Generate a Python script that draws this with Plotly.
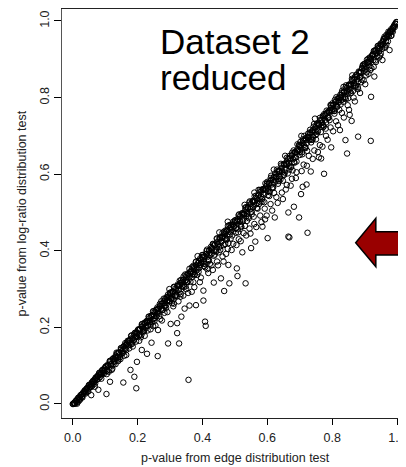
import plotly.graph_objects as go

# ---- data (edge-test p-value, log-ratio-test p-value) ----
band_edge = [
    .000, .003, .006, .009, .012, .015, .018, .021, .024, .027, .030, .033, .036, .039, .042, .045, .048,
    .051, .054, .057, .060, .063, .066, .069, .072, .075, .078, .081, .084, .087, .090, .093, .096, .099,
    .102, .105, .108, .111, .114, .117, .120, .123, .126, .129, .132, .135, .138, .141, .144, .147, .150,
    .153, .156, .159, .162, .165, .168, .171, .174, .177, .180, .183, .186, .189, .192, .195, .198,
    .201, .204, .207, .210, .213, .216, .219, .222, .225, .228, .231, .234, .237, .240, .243, .246, .249,
    .252, .255, .258, .261, .264, .267, .270, .273, .276, .279, .282, .285, .288, .291, .294, .297,
    .300, .303, .306, .309, .312, .315, .318, .321, .324, .327, .330, .333, .336, .339, .342, .345, .348,
    .351, .354, .357, .360, .363, .366, .369, .372, .375, .378, .381, .384, .387, .390, .393, .396, .399,
    .402, .405, .408, .411, .414, .417, .420, .423, .426, .429, .432, .435, .438, .441, .444, .447, .450,
    .453, .456, .459, .462, .465, .468, .471, .474, .477, .480, .483, .486, .489, .492, .495, .498,
    .501, .504, .507, .510, .513, .516, .519, .522, .525, .528, .531, .534, .537, .540, .543, .546, .549,
    .552, .555, .558, .561, .564, .567, .570, .573, .576, .579, .582, .585, .588, .591, .594, .597,
    .600, .603, .606, .609, .612, .615, .618, .621, .624, .627, .630, .633, .636, .639, .642, .645, .648,
    .651, .654, .657, .660, .663, .666, .669, .672, .675, .678, .681, .684, .687, .690, .693, .696, .699,
    .702, .705, .708, .711, .714, .717, .720, .723, .726, .729, .732, .735, .738, .741, .744, .747, .750,
    .753, .756, .759, .762, .765, .768, .771, .774, .777, .780, .783, .786, .789, .792, .795, .798,
    .801, .804, .807, .810, .813, .816, .819, .822, .825, .828, .831, .834, .837, .840, .843, .846, .849,
    .852, .855, .858, .861, .864, .867, .870, .873, .876, .879, .882, .885, .888, .891, .894, .897,
    .900, .903, .906, .909, .912, .915, .918, .921, .924, .927, .930, .933, .936, .939, .942, .945, .948,
    .951, .954, .957, .960, .963, .966, .969, .972, .975, .978, .981, .984, .987, .990, .993, .996, .999,
]
band_logratio = [
    .000, .001, .001, .008, .004, .012, .007, .017, .023, .018, .017, .031, .030, .027, .039, .037, .033,
    .050, .044, .052, .047, .061, .057, .053, .068, .064, .072, .080, .070, .079, .087, .081, .079, .093,
    .098, .086, .099, .084, .112, .103, .089, .116, .104, .117, .104, .134, .121, .116, .134, .117, .145,
    .133, .143, .126, .159, .141, .160, .153, .145, .166, .178, .157, .171, .168, .186, .163, .186,
    .193, .180, .194, .174, .208, .197, .189, .212, .198, .212, .192, .228, .216, .207, .231, .221, .242,
    .217, .237, .229, .252, .242, .229, .256, .268, .245, .262, .256, .274, .251, .271, .286, .269,
    .290, .276, .263, .294, .306, .281, .297, .281, .312, .298, .322, .287, .318, .307, .333, .320, .307,
    .337, .318, .335, .353, .319, .349, .339, .361, .336, .354, .372, .337, .368, .355, .380, .368, .389,
    .389, .372, .357, .391, .403, .375, .393, .366, .410, .393, .418, .387, .415, .402, .432, .417, .396,
    .434, .412, .434, .447, .415, .437, .453, .428, .455, .420, .467, .449, .462, .440, .476, .464,
    .480, .459, .477, .448, .495, .478, .464, .498, .477, .495, .465, .514, .496, .512, .485, .529, .513,
    .502, .530, .489, .542, .521, .536, .510, .559, .537, .527, .559, .539, .559, .527, .576, .560,
    .580, .562, .543, .582, .596, .563, .585, .551, .602, .583, .612, .575, .606, .592, .627, .609, .583,
    .627, .604, .628, .643, .602, .628, .648, .618, .649, .610, .662, .642, .656, .633, .678, .661, .676,
    .684, .668, .652, .687, .700, .671, .690, .661, .706, .689, .716, .683, .711, .698, .731, .714, .691,
    .732, .711, .731, .747, .710, .734, .752, .725, .753, .719, .766, .748, .763, .741, .781, .767,
    .785, .771, .758, .789, .801, .776, .792, .768, .807, .793, .818, .789, .813, .802, .832, .817, .798,
    .834, .816, .833, .849, .817, .837, .854, .831, .855, .827, .868, .852, .866, .847, .883, .870,
    .888, .875, .866, .891, .902, .882, .896, .877, .909, .898, .921, .897, .916, .908, .934, .921, .910,
    .937, .927, .939, .953, .933, .947, .958, .947, .961, .972, .961, .974, .972, .986, .984, .993, .997,
]

band2_edge = [
    .0015, .0045, .0075, .0105, .0135, .0165, .0195, .0225, .0255, .0285, .0315,
    .0345, .0375, .0405, .0435, .0465, .0495, .0525, .0555, .0585, .0615, .0645,
    .0675, .0705, .0735, .0765, .0795, .0825, .0855, .0885, .0915, .0945, .0975,
    .1005, .1035, .1065, .1095, .1125, .1155, .1185, .1215, .1245, .1275, .1305,
    .1335, .1365, .1395, .1425, .1455, .1485, .1515, .1545, .1575, .1605, .1635,
    .1665, .1695, .1725, .1755, .1785, .1815, .1845, .1875, .1905, .1935, .1965,
    .1995, .2025, .2055, .2085, .2115, .2145, .2175, .2205, .2235, .2265, .2295,
    .2325, .2355, .2385, .2415, .2445, .2475, .2505, .2535, .2565, .2595, .2625,
    .2655, .2685, .2715, .2745, .2775, .2805, .2835, .2865, .2895, .2925, .2955,
    .2985, .3015, .3045, .3075, .3105, .3135, .3165, .3195, .3225, .3255, .3285,
    .3315, .3345, .3375, .3405, .3435, .3465, .3495, .3525, .3555, .3585, .3615,
    .3645, .3675, .3705, .3735, .3765, .3795, .3825, .3855, .3885, .3915, .3945,
    .3975, .4005, .4035, .4065, .4095, .4125, .4155, .4185, .4215, .4245, .4275,
    .4305, .4335, .4365, .4395, .4425, .4455, .4485, .4515, .4545, .4575, .4605,
    .4635, .4665, .4695, .4725, .4755, .4785, .4815, .4845, .4875, .4905, .4935,
    .4965, .4995, .5025, .5055, .5085, .5115, .5145, .5175, .5205, .5235, .5265,
    .5295, .5325, .5355, .5385, .5415, .5445, .5475, .5505, .5535, .5565, .5595,
    .5625, .5655, .5685, .5715, .5745, .5775, .5805, .5835, .5865, .5895, .5925,
    .5955, .5985, .6015, .6045, .6075, .6105, .6135, .6165, .6195, .6225, .6255,
    .6285, .6315, .6345, .6375, .6405, .6435, .6465, .6495, .6525, .6555, .6585,
    .6615, .6645, .6675, .6705, .6735, .6765, .6795, .6825, .6855, .6885, .6915,
    .6945, .6975, .7005, .7035, .7065, .7095, .7125, .7155, .7185, .7215, .7245,
    .7275, .7305, .7335, .7365, .7395, .7425, .7455, .7485, .7515, .7545, .7575,
    .7605, .7635, .7665, .7695, .7725, .7755, .7785, .7815, .7845, .7875, .7905,
    .7935, .7965, .7995, .8025, .8055, .8085, .8115, .8145, .8175, .8205, .8235,
    .8265, .8295, .8325, .8355, .8385, .8415, .8445, .8475, .8505, .8535, .8565,
    .8595, .8625, .8655, .8685, .8715, .8745, .8775, .8805, .8835, .8865, .8895,
    .8925, .8955, .8985, .9015, .9045, .9075, .9105, .9135, .9165, .9195, .9225,
    .9255, .9285, .9315, .9345, .9375, .9405, .9435, .9465, .9495, .9525, .9555,
    .9585, .9615, .9645, .9675, .9705, .9735, .9765, .9795, .9825, .9855, .9885,
    .9915, .9945, .9975,
]
band2_logratio = [
    .000, .003, .001, .007, .001, .016, .012, .011, .023, .019, .027,
    .029, .036, .030, .040, .033, .049, .045, .044, .056, .052, .060,
    .062, .069, .063, .073, .066, .082, .078, .077, .089, .085, .093,
    .089, .099, .088, .101, .089, .113, .104, .100, .118, .110, .121,
    .122, .132, .121, .134, .122, .146, .137, .133, .151, .143, .154,
    .155, .165, .154, .167, .155, .179, .170, .166, .184, .176, .187,
    .183, .195, .180, .196, .180, .209, .197, .192, .213, .203, .215,
    .216, .228, .213, .229, .213, .242, .230, .225, .246, .236, .248,
    .249, .261, .246, .262, .246, .275, .263, .258, .279, .269, .281,
    .278, .291, .274, .291, .273, .305, .291, .286, .308, .297, .310,
    .311, .324, .307, .324, .306, .338, .324, .319, .341, .330, .343,
    .344, .357, .340, .357, .339, .371, .357, .352, .374, .363, .376,
    .371, .384, .366, .384, .365, .399, .384, .377, .402, .389, .403,
    .404, .417, .399, .417, .398, .432, .417, .410, .435, .422, .436,
    .437, .450, .432, .450, .431, .465, .450, .443, .468, .455, .469,
    .463, .478, .458, .478, .456, .493, .476, .469, .495, .481, .496,
    .496, .511, .491, .511, .489, .526, .509, .502, .528, .514, .529,
    .529, .544, .524, .544, .522, .559, .542, .535, .561, .547, .562,
    .560, .575, .555, .575, .553, .590, .573, .566, .592, .578, .593,
    .593, .608, .588, .608, .586, .623, .606, .599, .625, .611, .626,
    .626, .641, .621, .641, .619, .656, .639, .632, .658, .644, .659,
    .663, .676, .658, .676, .657, .691, .676, .669, .694, .681, .695,
    .696, .709, .691, .709, .690, .724, .709, .702, .727, .714, .728,
    .729, .742, .724, .742, .723, .757, .742, .735, .760, .747, .761,
    .768, .780, .765, .781, .765, .794, .782, .777, .798, .788, .800,
    .801, .813, .798, .814, .798, .827, .815, .810, .831, .821, .833,
    .834, .846, .831, .847, .831, .860, .848, .843, .864, .854, .866,
    .878, .886, .878, .889, .881, .899, .893, .892, .905, .901, .909,
    .914, .922, .914, .925, .917, .935, .929, .928, .941, .937, .945,
    .953, .959, .956, .964, .961, .972, .970, .971, .979, .978, .984,
    .989, .993, .997,
]

ridge_edge = [
    .0045, .0125, .0205, .0285, .0365, .0445, .0525, .0605, .0685, .0765,
    .0845, .0925, .1005, .1085, .1165, .1245, .1325, .1405, .1485, .1565,
    .1645, .1725, .1805, .1885, .1965, .2045, .2125, .2205, .2285, .2365,
    .2445, .2525, .2605, .2685, .2765, .2845, .2925, .3005, .3085, .3165,
    .3245, .3325, .3405, .3485, .3565, .3645, .3725, .3805, .3885, .3965,
    .4045, .4125, .4205, .4285, .4365, .4445, .4525, .4605, .4685, .4765,
    .4845, .4925, .5005, .5085, .5165, .5245, .5325, .5405, .5485, .5565,
    .5645, .5725, .5805, .5885, .5965, .6045, .6125, .6205, .6285, .6365,
    .6445, .6525, .6605, .6685, .6765, .6845, .6925, .7005, .7085, .7165,
    .7245, .7325, .7405, .7485, .7565, .7645, .7725, .7805, .7885, .7965,
    .8045, .8125, .8205, .8285, .8365, .8445, .8525, .8605, .8685, .8765,
    .8845, .8925, .9005, .9085, .9165, .9245, .9325, .9405, .9485, .9565,
    .9645, .9725, .9805, .9885, .9965,
]
ridge_logratio = [
    .003, .011, .018, .026, .034, .042, .049, .057, .065, .073,
    .080, .088, .096, .103, .111, .119, .126, .134, .141, .149,
    .156, .164, .171, .179, .186, .194, .202, .209, .217, .224,
    .232, .240, .247, .255, .263, .270, .278, .286, .293, .301,
    .308, .316, .324, .331, .339, .346, .354, .362, .369, .377,
    .385, .392, .400, .407, .415, .422, .430, .437, .445, .452,
    .460, .467, .475, .483, .491, .498, .506, .514, .522, .530,
    .538, .546, .554, .561, .569, .577, .585, .593, .601, .609,
    .617, .625, .633, .641, .649, .657, .665, .673, .681, .690,
    .698, .707, .715, .723, .732, .740, .748, .757, .765, .773,
    .781, .790, .799, .807, .816, .825, .833, .842, .850, .859,
    .867, .876, .884, .893, .902, .911, .920, .929, .938, .947,
    .956, .965, .974, .983, .992,
]

spread_points = [
    (0.140, 0.112), (0.165, 0.128), (0.185, 0.150), (0.205, 0.165), (0.222, 0.178), (0.248, 0.203),
    (0.270, 0.222), (0.283, 0.238), (0.310, 0.255), (0.332, 0.280), (0.350, 0.300), (0.372, 0.318),
    (0.395, 0.330), (0.415, 0.352), (0.428, 0.362), (0.445, 0.372), (0.462, 0.385), (0.478, 0.405),
    (0.495, 0.418), (0.512, 0.430), (0.527, 0.446), (0.545, 0.458), (0.560, 0.470), (0.578, 0.492),
    (0.592, 0.510), (0.610, 0.522), (0.628, 0.540), (0.645, 0.552), (0.660, 0.572), (0.676, 0.588),
    (0.690, 0.605), (0.712, 0.625), (0.728, 0.648), (0.745, 0.662), (0.762, 0.676), (0.781, 0.700),
    (0.795, 0.722), (0.812, 0.738), (0.830, 0.760), (0.848, 0.780), (0.866, 0.800), (0.880, 0.822),
    (0.897, 0.845), (0.912, 0.862), (0.928, 0.880), (0.945, 0.905), (0.962, 0.930), (0.105, 0.078),
    (0.122, 0.092), (0.088, 0.066), (0.068, 0.045),
    (0.385, 0.386), (0.452, 0.448), (0.560, 0.552), (0.298, 0.300), (0.530, 0.520), (0.620, 0.612),
    (0.705, 0.700), (0.835, 0.828), (0.747, 0.745), (0.862, 0.858), (0.478, 0.476), (0.655, 0.648),
    (0.905, 0.858), (0.918, 0.872), (0.935, 0.893), (0.950, 0.915), (0.967, 0.938), (0.983, 0.962),
    (0.872, 0.826), (0.889, 0.840), (0.858, 0.812), (0.842, 0.796), (0.826, 0.782), (0.808, 0.765),
    (0.790, 0.748), (0.772, 0.728), (0.752, 0.705), (0.738, 0.690), (0.718, 0.668), (0.700, 0.650),
    (0.684, 0.630), (0.668, 0.612), (0.652, 0.598), (0.636, 0.582), (0.618, 0.565), (0.602, 0.545),
    (0.585, 0.528), (0.568, 0.512), (0.552, 0.495), (0.537, 0.478), (0.520, 0.462), (0.503, 0.447),
    (0.487, 0.432), (0.470, 0.418), (0.455, 0.402), (0.438, 0.390), (0.420, 0.375), (0.405, 0.360),
    (0.388, 0.345), (0.368, 0.332), (0.352, 0.318), (0.335, 0.300), (0.318, 0.283), (0.300, 0.268),
    (0.285, 0.255), (0.265, 0.238), (0.250, 0.222), (0.232, 0.205), (0.215, 0.190), (0.198, 0.175),
    (0.180, 0.160), (0.162, 0.144), (0.145, 0.128), (0.128, 0.112),
    (0.312, 0.262), (0.326, 0.268), (0.341, 0.283), (0.356, 0.290), (0.375, 0.305), (0.392, 0.318),
    (0.418, 0.342), (0.432, 0.350), (0.448, 0.362), (0.465, 0.372), (0.473, 0.392), (0.490, 0.402),
    (0.505, 0.415), (0.518, 0.425), (0.535, 0.440), (0.548, 0.445), (0.566, 0.462), (0.582, 0.475),
    (0.598, 0.492), (0.615, 0.505), (0.632, 0.525), (0.648, 0.535), (0.657, 0.560), (0.672, 0.570),
    (0.688, 0.590), (0.706, 0.608), (0.722, 0.622), (0.740, 0.640), (0.756, 0.658), (0.770, 0.672),
    (0.786, 0.690), (0.803, 0.712), (0.818, 0.728), (0.836, 0.748), (0.852, 0.768), (0.870, 0.790),
    (0.886, 0.812), (0.902, 0.835), (0.240, 0.195), (0.255, 0.205), (0.275, 0.218), (0.292, 0.240),
]

outlier_points = [
    (0.357, 0.063), (0.408, 0.215), (0.410, 0.204), (0.262, 0.125), (0.294, 0.158), (0.328, 0.158),
    (0.322, 0.185), (0.229, 0.131), (0.403, 0.270), (0.380, 0.258), (0.360, 0.257), (0.467, 0.295),
    (0.483, 0.315), (0.533, 0.315), (0.508, 0.334), (0.506, 0.354), (0.480, 0.363), (0.457, 0.328),
    (0.550, 0.407), (0.523, 0.396), (0.563, 0.424), (0.601, 0.433), (0.665, 0.437), (0.668, 0.435),
    (0.724, 0.447), (0.623, 0.487), (0.585, 0.463), (0.593, 0.482), (0.665, 0.500), (0.698, 0.487),
    (0.682, 0.515), (0.704, 0.548), (0.709, 0.567), (0.721, 0.573), (0.775, 0.601), (0.734, 0.607),
    (0.759, 0.644), (0.403, 0.296), (0.435, 0.317), (0.322, 0.211), (0.335, 0.228), (0.302, 0.209),
    (0.367, 0.293), (0.345, 0.249),
    (0.196, 0.041), (0.104, 0.026), (0.156, 0.056), (0.190, 0.071), (0.178, 0.089), (0.115, 0.058),
    (0.079, 0.037), (0.057, 0.023), (0.198, 0.110), (0.243, 0.160), (0.213, 0.141), (0.213, 0.202),
    (0.263, 0.193),
    (0.846, 0.654), (0.880, 0.698), (0.797, 0.670), (0.841, 0.689), (0.824, 0.715), (0.860, 0.739),
    (0.854, 0.755), (0.766, 0.641), (0.919, 0.687), (0.920, 0.802), (0.930, 0.855), (0.955, 0.898),
    (0.977, 0.924),
]

tick_values = [0.0, 0.2, 0.4, 0.6, 0.8, 1.0]
tick_labels = ["0.0", "0.2", "0.4", "0.6", "0.8", "1.0"]

x_title = "p-value from edge distribution test"
y_title = "p-value from log-ratio distribution test"
caption_lines = ["Dataset 2", "reduced"]

# ---- figure ----
FONT = "Liberation Sans, Arial, Helvetica, sans-serif"
BODY = 8                      # default page margin around the plot div
W, H = 406 - BODY, 467 - BODY
L, R, T, B = 62 - BODY, 0, 9 - BODY, H - (418 - BODY)
PW, PH = W - L - R, H - T - B


def px_to_paper(px, py):
    fx, fy = px - BODY, py - BODY
    return (fx - L) / PW, (H - B - fy) / PH


marker = dict(symbol="circle-open", size=5.5, color="#000000", line=dict(width=1, color="#000000"))

fig = go.Figure()
groups = [
    (band_edge, band_logratio),
    (band2_edge, band2_logratio),
    (ridge_edge, ridge_logratio),
    ([p[0] for p in spread_points], [p[1] for p in spread_points]),
    ([p[0] for p in outlier_points], [p[1] for p in outlier_points]),
]
for gx, gy in groups:
    fig.add_trace(go.Scatter(x=gx, y=gy, mode="markers", marker=marker,
                             showlegend=False, hoverinfo="skip", cliponaxis=False))

axis_common = dict(
    showgrid=False, zeroline=False, showline=True, linewidth=1,
    ticks="outside", tickwidth=1, tickcolor="#000000",
    tickvals=tick_values, ticktext=tick_labels,
    tickfont=dict(family=FONT, size=12.5, color="#222222"),
)
fig.update_xaxes(range=[-0.0331, 1.003], linecolor="#222222", mirror=True,
                 ticklen=6, ticklabeloverflow="allow", ticklabelstandoff=2, **axis_common)
fig.update_yaxes(range=[-0.0366, 1.0313], linecolor="#555555", mirror=False,
                 ticklen=7, tickangle=-90, **axis_common)

annotations = []
ax, ay = px_to_paper(240, 458)
annotations.append(dict(text=x_title, x=ax, y=ay, xref="paper", yref="paper", showarrow=False,
                        xanchor="center", yanchor="middle",
                        font=dict(family=FONT, size=12.5, color="#222222")))
ax, ay = px_to_paper(21, 213.5)
annotations.append(dict(text=y_title, x=ax, y=ay, xref="paper", yref="paper", showarrow=False,
                        xanchor="center", yanchor="middle", textangle=-90,
                        font=dict(family=FONT, size=12.5, color="#222222")))
for line, cy in zip(caption_lines, [42, 77]):
    ax, ay = px_to_paper(160, cy)
    annotations.append(dict(text=line, x=ax, y=ay, xref="paper", yref="paper", showarrow=False,
                            xanchor="left", yanchor="middle",
                            font=dict(family=FONT, size=35, color="#000000")))

# left-pointing arrow (decoration), in page pixel positions converted to paper
arrow_px = [(362.7, 242.7), (383.3, 218.3), (383.3, 231.7), (412, 231.7),
            (412, 255.0), (383.3, 255.0), (383.3, 266.7)]
pts = [px_to_paper(a, b) for a, b in arrow_px]
path = "M " + " L ".join(f"{a:.4f},{b:.4f}" for a, b in pts) + " Z"
shapes = [dict(type="path", path=path, xref="paper", yref="paper",
               fillcolor="#990000", line=dict(color="#000000", width=1.5))]

fig.update_layout(
    width=W, height=H, autosize=False,
    margin=dict(l=L, r=R, t=T, b=B, pad=0),
    paper_bgcolor="#ffffff", plot_bgcolor="#ffffff",
    annotations=annotations, shapes=shapes,
    font=dict(family=FONT),
)

fig.write_html("out.html")
